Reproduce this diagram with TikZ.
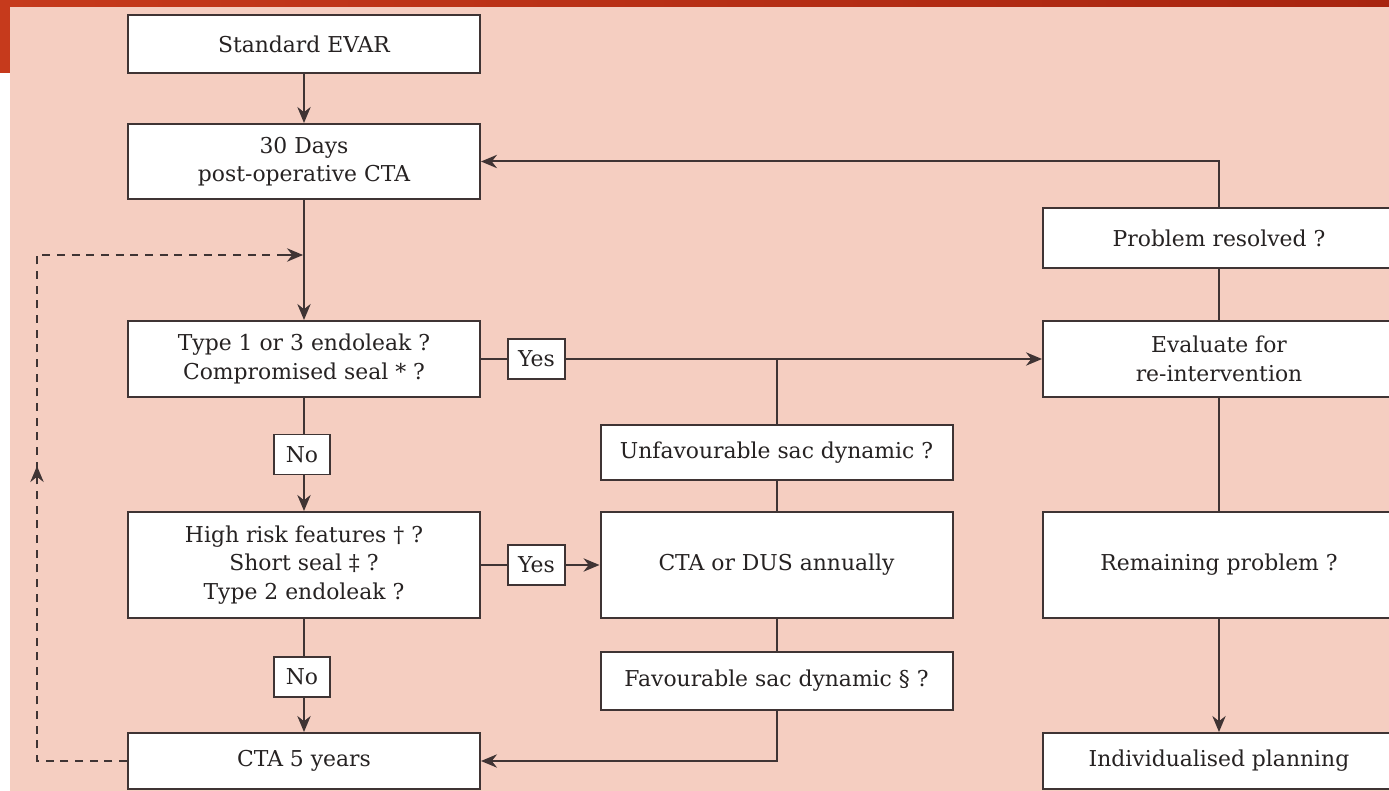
\documentclass[tikz,border=0pt]{standalone}
\usepackage{fontspec}
\setmainfont{DejaVu Serif}
\usetikzlibrary{arrows.meta}
\definecolor{bgpink}{HTML}{F5CEC1}
\definecolor{redA}{HTML}{C63A1C}
\definecolor{redB}{HTML}{A8240F}
\definecolor{ln}{HTML}{3F3434}
\definecolor{txt}{HTML}{262222}
\tikzset{
  box/.style={draw=ln, line width=1.5pt, fill=white, text=txt, inner sep=0pt,
    minimum width=264pt, align=center, font=\fontsize{16.4}{21.5}\selectfont},
  tag/.style={draw=ln, line width=1.3pt, fill=white, text=txt, inner sep=0pt,
    minimum width=42.5pt, minimum height=30pt, font=\fontsize{16.4}{21.5}\selectfont},
  conn/.style={draw=ln, line width=1.5pt},
  tip/.style={-{Stealth[length=12pt, width=10pt]}},
  arr/.style={conn, tip},
  dashconn/.style={draw=ln, line width=1.4pt, dash pattern=on 6pt off 5pt},
}
\begin{document}
\begin{tikzpicture}[x=0.75pt, y=-0.75pt]
\useasboundingbox (0,0) rectangle (1389,791);
\clip (0,0) rectangle (1389,791);
% background
\fill[white] (0,0) rectangle (1389,791);
\fill[bgpink] (10,7) rectangle (1389,791);
\shade[left color=redA, right color=redB] (0,0) rectangle (1389,7);
\fill[redA] (0,0) rectangle (10,73);

% nodes
\node[box, minimum height=43.5pt] (evar) at (304,44) {Standard EVAR};
\node[box, minimum height=56.25pt] (d30) at (304,161.5) {30 Days\\post-operative CTA};
\node[box, minimum height=57pt] (t1) at (304,359) {Type 1 or 3 endoleak ?\\Compromised seal * ?};
\node[tag] (yes1) at (536.5,359) {Yes};
\node[tag] (no1) at (302,454.5) {No};
\node[box, minimum height=79.5pt] (hr) at (304,565) {High risk features † ?\\Short seal ‡ ?\\Type 2 endoleak ?};
\node[tag] (yes2) at (536.5,565) {Yes};
\node[tag] (no2) at (302,677) {No};
\node[box, minimum height=42pt] (c5) at (304,761) {CTA 5 years};

\node[box, minimum height=41.25pt] (unf) at (776.5,452.5) {Unfavourable sac dynamic ?};
\node[box, minimum height=79.5pt] (dus) at (776.5,565) {CTA or DUS annually};
\node[box, minimum height=43.5pt] (fav) at (776.5,681) {Favourable sac dynamic § ?};

\node[box, minimum height=45pt] (pr) at (1219,238) {Problem resolved ?};
\node[box, minimum height=57pt] (ev) at (1219,359) {Evaluate for\\re-intervention};
\node[box, minimum height=79.5pt] (rem) at (1219,565) {Remaining problem ?};
\node[box, minimum height=42pt] (ind) at (1219,761) {Individualised planning};

\coordinate (j1) at (776.5,359);
\coordinate (dj) at (304,255);
\coordinate (dl) at (37,761);
\coordinate (du) at (37,255);
\coordinate (dm) at (37,466);

% connectors
\draw[arr] (evar) -- (d30);
\draw[arr] (d30) -- (t1);
\draw[conn] (t1) -- (yes1);
\draw[arr] (yes1) -- (ev);
\draw[conn] (j1) -- (unf);
\draw[conn] (unf) -- (dus);
\draw[conn] (t1.south) -- (t1.south |- no1.north);
\draw[arr] (t1.south |- no1.south) -- (hr.north);
\draw[conn] (hr) -- (yes2);
\draw[arr] (yes2) -- (dus);
\draw[conn] (dus) -- (fav);
\draw[arr] (fav.south) |- (c5.east);
\draw[conn] (hr.south) -- (hr.south |- no2.north);
\draw[arr] (hr.south |- no2.south) -- (c5.north);
\draw[conn] (ev) -- (pr);
\draw[arr] (pr.north) |- (d30.east);
\draw[conn] (ev) -- (rem);
\draw[arr] (rem) -- (ind);
% dashed feedback
\draw[dashconn] (c5.west) -- (dl) -- (du) -- ([xshift=-0.7pt]dj);
\draw[conn, tip] ([xshift=-15pt]dj) -- ([xshift=-0.7pt]dj);
\draw[conn, tip] ([yshift=-9pt]dm) -- (dm);
\end{tikzpicture}
\end{document}
